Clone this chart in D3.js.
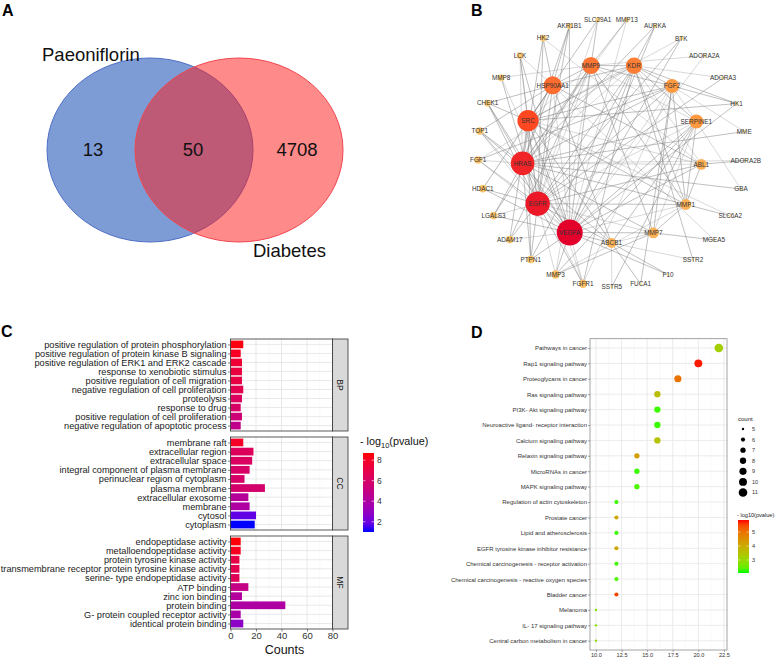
<!DOCTYPE html>
<html>
<head>
<meta charset="utf-8">
<script src="https://cdn.jsdelivr.net/npm/d3@7"></script>
<style>
body { margin: 0; background: #fff; }
text { font-family: "Liberation Sans", Arial, sans-serif; }
</style>
</head>
<body>
<svg width="780" height="659"></svg>
<script>
// ---- data: panel A (venn) ----
var vennSets = ["Paeoniflorin", "Diabetes"];
var vennCounts = [13, 50, 4708];

// ---- data: panel B (PPI network, degree sorted rings) ----
var innerGenes = ["VEGFA", "EGFR", "HRAS", "SRC", "HSP90AA1", "MMP9", "KDR", "FGF2", "SERPINE1", "ABL1", "MMP1", "MMP7", "ABCB1"];
var innerDegree = [30, 28, 27, 24, 20, 19, 18, 15, 15, 11, 11, 11, 10];
var outerGenes = ["FGFR1", "MMP3", "PTPN1", "ADAM17", "LGALS3", "HDAC1", "FGF1", "TOP1", "CHEK1", "MMP8", "LCK", "HK2", "AKR1B1",
  "SLC29A1", "MMP13", "AURKA", "BTK", "ADORA2A", "ADORA3", "HK1", "MME", "ADORA2B", "GBA", "SLC6A2", "MGEA5", "SSTR2", "F10", "FUCA1", "SSTR5"];
var outerDegree = [8, 8, 7, 7, 7, 7, 7, 7, 6, 6, 6, 6, 5, 4, 4, 3, 3, 2, 2, 2, 2, 1, 1, 1, 1, 1, 1, 1, 1];
var adjacency = [
  "VEGFA: EGFR HRAS SRC HSP90AA1 MMP9 KDR FGF2 SERPINE1 ABL1 MMP1 MMP7 ABCB1 FGFR1 MMP3 PTPN1 ADAM17 LGALS3 HDAC1 FGF1 TOP1 CHEK1 MMP8 LCK AKR1B1 MMP13 AURKA BTK ADORA2A HK1 F10",
  "EGFR: HRAS SRC HSP90AA1 MMP9 KDR FGF2 SERPINE1 ABL1 MMP1 MMP7 ABCB1 FGFR1 MMP3 PTPN1 ADAM17 LGALS3 HDAC1 FGF1 TOP1 CHEK1 MMP8 LCK HK2 AKR1B1 SLC29A1 BTK ADORA3",
  "HRAS: SRC HSP90AA1 MMP9 KDR FGF2 SERPINE1 ABL1 MMP1 MMP7 FGFR1 PTPN1 LGALS3 FGF1 TOP1 CHEK1 LCK HK2 AKR1B1 MMP13 AURKA MME ADORA2B GBA",
  "SRC: HSP90AA1 MMP9 KDR FGF2 ABL1 MMP1 ABCB1 FGFR1 PTPN1 ADAM17 HDAC1 LCK CHEK1 BTK SLC29A1 HK1 SLC6A2",
  "HSP90AA1: MMP9 KDR FGF2 ABL1 ABCB1 HDAC1 TOP1 CHEK1 LCK HK2 AKR1B1 MGEA5",
  "MMP9: KDR FGF2 SERPINE1 MMP1 MMP7 MMP3 ADAM17 LGALS3 MMP8 MMP13 SLC29A1 ADORA2A",
  "KDR: FGF2 SERPINE1 ABL1 MMP1 FGFR1 FGF1 PTPN1 HK1 ADORA3 AURKA SSTR2",
  "FGF2: SERPINE1 MMP1 MMP7 FGFR1 FGF1 HK1 MME FUCA1",
  "SERPINE1: MMP1 MMP7 ABCB1 MMP3 GBA SSTR5",
  "ABL1: MMP1 HK2 ADORA2B",
  "MMP1: MMP7 MMP3 SLC6A2",
  "MMP7: MMP3 ABCB1 MGEA5",
  "ABCB1: TOP1 SSTR2 F10 FUCA1 SSTR5"
];

// ---- data: panel C (GO enrichment) ----
var bpTerms = ["positive regulation of protein phosphorylation", "positive regulation of protein kinase B signaling",
  "positive regulation of ERK1 and ERK2 cascade", "response to xenobiotic stimulus", "positive regulation of cell migration",
  "negative regulation of cell proliferation", "proteolysis", "response to drug", "positive regulation of cell proliferation",
  "negative regulation of apoptotic process"];
var bpCounts = [10, 8, 9, 9, 9, 10, 9, 8, 9, 8];
var bpLogP = [8.5, 8.1, 7.6, 7.3, 7.1, 6.8, 6.3, 6.0, 5.5, 4.8];
var ccTerms = ["membrane raft", "extracellular region", "extracellular space", "integral component of plasma membrane",
  "perinuclear region of cytoplasm", "plasma membrane", "extracellular exosome", "membrane", "cytosol", "cytoplasm"];
var ccCounts = [10, 18, 17, 15, 11, 27, 14, 15, 20, 19];
var ccLogP = [8.0, 6.4, 6.2, 6.0, 6.0, 5.8, 4.3, 4.0, 1.8, 1.0];
var mfTerms = ["endopeptidase activity", "metalloendopeptidase activity", "protein tyrosine kinase activity",
  "transmembrane receptor protein tyrosine kinase activity", "serine- type endopeptidase activity", "ATP binding",
  "zinc ion binding", "protein binding", "G- protein coupled receptor activity", "identical protein binding"];
var mfCounts = [8, 8, 7, 7, 7, 14, 9, 43, 8, 10];
var mfLogP = [8.6, 8.2, 7.0, 6.8, 6.5, 5.0, 4.2, 4.0, 3.8, 2.8];
var countTicks = [0, 20, 40, 60, 80];

// ---- data: panel D (KEGG enrichment) ----
var keggTerms = ["Pathways in cancer", "Rap1 signaling pathway", "Proteoglycans in cancer", "Ras signaling pathway",
  "PI3K- Akt signaling pathway", "Neuroactive ligand- receptor interaction", "Calcium signaling pathway",
  "Relaxin signaling pathway", "MicroRNAs in cancer", "MAPK signaling pathway", "Regulation of actin cytoskeleton",
  "Prostate cancer", "Lipid and atherosclerosis", "EGFR tyrosine kinase inhibitor resistance",
  "Chemical carcinogenesis -  receptor activation", "Chemical carcinogenesis -  reactive oxygen species",
  "Bladder cancer", "Melanoma", "IL- 17 signaling pathway", "Central carbon metabolism in cancer"];
var keggX = [22, 20, 18, 16, 16, 16, 16, 14, 14, 14, 12, 12, 12, 12, 12, 12, 12, 10, 10, 10];
var keggCount = [11, 10, 9, 8, 8, 8, 8, 7, 7, 7, 6, 6, 6, 6, 6, 6, 6, 5, 5, 5];
var keggLogP = [3.2, 5.8, 5.0, 3.6, 2.2, 2.2, 3.5, 4.2, 2.2, 2.3, 2.2, 4.0, 2.2, 4.1, 2.2, 2.3, 5.5, 2.8, 2.8, 2.9];
var keggTicks = [10, 12.5, 15, 17.5, 20, 22.5];
var sizeLegend = [5, 6, 7, 8, 9, 10, 11];

var svg = d3.select("svg");

function panelLetter(t, x, y) {
  svg.append("text").attr("x", x).attr("y", y).text(t)
    .style("font-size", "16px").style("font-weight", "bold").style("fill", "#000");
}
panelLetter("A", 2, 16);
panelLetter("B", 471, 16);
panelLetter("C", 1, 337);
panelLetter("D", 471, 338);

// ================= A: venn =================
var ellA = {cx: 150, cy: 150, rx: 103, ry: 92};
var ellB = {cx: 239, cy: 150, rx: 104, ry: 92};
var venn = svg.append("g").attr("class", "venn");
venn.append("ellipse").attr("cx", ellA.cx).attr("cy", ellA.cy).attr("rx", ellA.rx).attr("ry", ellA.ry)
  .style("fill", "#7d9cd6").style("stroke", "#4f6fc6").style("stroke-width", 1);
venn.append("ellipse").attr("cx", ellB.cx).attr("cy", ellB.cy).attr("rx", ellB.rx).attr("ry", ellB.ry)
  .style("fill", "rgba(255,21,21,0.5)").style("stroke", "#f0474f").style("stroke-width", 1);

var aLeft = ellA.cx - ellA.rx, aRight = ellA.cx + ellA.rx;
var bLeft = ellB.cx - ellB.rx, bRight = ellB.cx + ellB.rx;
var regionX = [(aLeft + bLeft) / 2 + 2, (bLeft + aRight) / 2 - 1, (aRight + bRight) / 2 - 1];
venn.selectAll(".vennNum").data(vennCounts).enter().append("text")
  .attr("class", "vennNum")
  .attr("x", function(d, i) { return regionX[i]; })
  .attr("y", 156)
  .style("text-anchor", "middle").style("font-size", "18.5px").style("fill", "#111")
  .text(function(d) { return d; });
venn.append("text").attr("x", 42).attr("y", 61).text(vennSets[0]).style("font-size", "18.5px").style("fill", "#111");
venn.append("text").attr("x", 253).attr("y", 257).text(vennSets[1]).style("font-size", "18.5px").style("fill", "#111");

// ================= B: network =================
var ringCenter = {x: 612, y: 153};
function placeRing(names, degrees, radius, start) {
  var ang = d3.scaleLinear().domain([0, names.length]).range([start, start + 360]);
  return names.map(function(n, i) {
    var a = ang(i) * Math.PI / 180;
    return {id: n, degree: degrees[i], x: ringCenter.x + radius * Math.cos(a), y: ringCenter.y + radius * Math.sin(a)};
  });
}
var nodes = placeRing(innerGenes, innerDegree, 90, 118).concat(placeRing(outerGenes, outerDegree, 134, 102.5));
var byId = {};
nodes.forEach(function(n) { byId[n.id] = n; });
var links = [];
adjacency.forEach(function(row) {
  var parts = row.split(":");
  var src = parts[0].trim();
  parts[1].trim().split(/\s+/).forEach(function(t) { links.push({source: byId[src], target: byId[t]}); });
});

var nodeColor = d3.scaleLinear().domain([1, 7, 15, 24, 30])
  .range(["#fde9a6", "#fdc56a", "#ff9a40", "#ff4722", "#e3002b"]);
var nodeR = d3.scaleLinear().domain([0, 30]).range([1, 13]);

var net = svg.append("g").attr("class", "network");
net.selectAll(".link").data(links).enter().append("line")
  .attr("class", "link")
  .attr("x1", function(d) { return d.source.x; })
  .attr("y1", function(d) { return d.source.y; })
  .attr("x2", function(d) { return d.target.x; })
  .attr("y2", function(d) { return d.target.y; })
  .style("stroke", "#7d7d7d").style("stroke-opacity", function(d, i) { return i % 3 === 0 ? 0.45 : 0.75; })
  .style("stroke-width", 0.65);
net.selectAll(".node").data(nodes).enter().append("circle")
  .attr("class", "node")
  .attr("cx", function(d) { return d.x; })
  .attr("cy", function(d) { return d.y; })
  .attr("r", function(d) { return nodeR(d.degree); })
  .style("fill", function(d) { return nodeColor(d.degree); });
net.selectAll(".nodeLabel").data(nodes).enter().append("text")
  .attr("class", "nodeLabel")
  .attr("x", function(d) { return d.x; })
  .attr("y", function(d) { return d.y; })
  .attr("dy", "0.35em")
  .style("text-anchor", "middle").style("font-size", "6.4px").style("fill", "#333")
  .text(function(d) { return d.id; });

// ================= C: GO bars =================
var xC = d3.scaleLinear().domain([0, 80]).range([230.5, 332.5]);
var fillC = d3.scaleLinear().domain([1.0, 8.7]).range(["blue", "red"]).interpolate(d3.interpolateLab);
var facets = [
  {key: "BP", terms: bpTerms, counts: bpCounts, logp: bpLogP, y0: 339, y1: 431},
  {key: "CC", terms: ccTerms, counts: ccCounts, logp: ccLogP, y0: 437, y1: 530},
  {key: "MF", terms: mfTerms, counts: mfCounts, logp: mfLogP, y0: 536, y1: 629}
];
var goG = svg.append("g").attr("class", "go");
facets.forEach(function(f) {
  var y = d3.scalePoint().domain(f.terms).range([f.y0, f.y1]).padding(0.6);
  var bh = y.step() * 0.85;
  var g = goG.append("g");
  g.append("rect").attr("x", xC(0)).attr("y", f.y0).attr("width", xC(80) - xC(0)).attr("height", f.y1 - f.y0)
    .style("fill", "#fff");
  g.selectAll(".minor").data([10, 30, 50, 70]).enter().append("line")
    .attr("x1", xC).attr("x2", xC).attr("y1", f.y0).attr("y2", f.y1)
    .style("stroke", "#f2f2f2").style("stroke-width", 0.5);
  g.selectAll(".major").data(countTicks).enter().append("line")
    .attr("x1", xC).attr("x2", xC).attr("y1", f.y0).attr("y2", f.y1)
    .style("stroke", "#e6e6e6").style("stroke-width", 0.9);
  g.selectAll(".hgrid").data(f.terms).enter().append("line")
    .attr("x1", xC(0)).attr("x2", xC(80)).attr("y1", y).attr("y2", y)
    .style("stroke", "#e6e6e6").style("stroke-width", 0.9);
  g.selectAll(".bar").data(f.terms).enter().append("rect")
    .attr("class", "bar")
    .attr("x", xC(0))
    .attr("y", function(d) { return y(d) - bh / 2; })
    .attr("width", function(d, i) { return xC(f.counts[i]) - xC(0); })
    .attr("height", bh)
    .style("fill", function(d, i) { return fillC(f.logp[i]); });
  g.append("rect").attr("x", xC(0)).attr("y", f.y0).attr("width", xC(80) - xC(0)).attr("height", f.y1 - f.y0)
    .style("fill", "none").style("stroke", "#333").style("stroke-width", 0.8);
  // strip
  g.append("rect").attr("x", xC(80)).attr("y", f.y0).attr("width", 15.5).attr("height", f.y1 - f.y0)
    .style("fill", "#d9d9d9").style("stroke", "#333").style("stroke-width", 0.8);
  g.append("text").attr("transform", "translate(" + (xC(80) + 7.75) + "," + ((f.y0 + f.y1) / 2) + ") rotate(90)")
    .attr("dy", "0.35em").style("text-anchor", "middle").style("font-size", "8.5px").style("fill", "#1a1a1a")
    .text(f.key);
  // y axis
  var ax = g.append("g").attr("transform", "translate(" + xC(0) + ",0)")
    .call(d3.axisLeft(y).tickSize(2.5).tickPadding(1.5));
  ax.select(".domain").remove();
  ax.selectAll("line").style("stroke", "#333").style("stroke-width", 0.6);
  ax.selectAll("text").style("font-size", "9.2px").style("fill", "#1a1a1a")
    .style("font-family", "'Liberation Sans', Arial, sans-serif");
});
var axC = goG.append("g").attr("transform", "translate(0,629)")
  .call(d3.axisBottom(xC).tickValues(countTicks).tickSize(2.5).tickPadding(1));
axC.select(".domain").remove();
axC.selectAll("line").style("stroke", "#333").style("stroke-width", 0.6);
axC.selectAll("text").style("font-size", "9.5px").style("fill", "#333")
  .style("font-family", "'Liberation Sans', Arial, sans-serif");
goG.append("text").attr("x", (xC(0) + xC(80)) / 2 + 3).attr("y", 654).style("text-anchor", "middle")
  .style("font-size", "12.5px").style("fill", "#111").text("Counts");

// legend C
var legC = goG.append("g");
var tC = legC.append("text").attr("x", 360).attr("y", 445).style("font-size", "10.8px").style("fill", "#111");
tC.append("tspan").text("- log");
tC.append("tspan").attr("dy", 3).style("font-size", "7.5px").text("10");
tC.append("tspan").attr("dy", -3).text("(pvalue)");
var defs = svg.append("defs");
function makeGradient(id, scale, domain) {
  var gr = defs.append("linearGradient").attr("id", id).attr("x1", 0).attr("x2", 0).attr("y1", 0).attr("y2", 1);
  d3.range(0, 11).forEach(function(k) {
    var v = domain[1] - (domain[1] - domain[0]) * k / 10;
    gr.append("stop").attr("offset", (k * 10) + "%").attr("stop-color", scale(v));
  });
}
makeGradient("gradC", fillC, [1.0, 8.7]);
var barCY = d3.scaleLinear().domain([8.7, 1.0]).range([453, 532]);
legC.append("rect").attr("x", 363).attr("y", barCY(8.7)).attr("width", 11).attr("height", barCY(1.0) - barCY(8.7))
  .style("fill", "url(#gradC)");
[8, 6, 4, 2].forEach(function(v) {
  legC.append("line").attr("x1", 363).attr("x2", 365.5).attr("y1", barCY(v)).attr("y2", barCY(v)).style("stroke", "#fff").style("stroke-width", 0.6);
  legC.append("line").attr("x1", 371.5).attr("x2", 374).attr("y1", barCY(v)).attr("y2", barCY(v)).style("stroke", "#fff").style("stroke-width", 0.6);
  legC.append("text").attr("x", 377).attr("y", barCY(v)).attr("dy", "0.35em").style("font-size", "8.5px").style("fill", "#333").text(v);
});

// ================= D: KEGG dots =================
var xD = d3.scaleLinear().domain([9.42, 22.8]).range([590, 727]);
var yD = d3.scalePoint().domain(keggTerms).range([338.7, 650]).padding(0.6);
var colD = d3.scaleLinear().domain([2.07, 5.86]).range(["#00ff00", "#ff0000"]).interpolate(d3.interpolateLab);
var area = d3.scaleLinear().domain([5, 11]).range([1.44, 18.5]);
function rD(c) { return Math.sqrt(area(c)); }

var kg = svg.append("g").attr("class", "kegg");
kg.append("rect").attr("x", 590).attr("y", 338.7).attr("width", 137).attr("height", 650 - 338.7).style("fill", "#fff");
kg.selectAll(".minorD").data([11.25, 13.75, 16.25, 18.75, 21.25]).enter().append("line")
  .attr("x1", xD).attr("x2", xD).attr("y1", 338.7).attr("y2", 650)
  .style("stroke", "#f2f2f2").style("stroke-width", 0.5);
kg.selectAll(".majorD").data(keggTicks).enter().append("line")
  .attr("x1", xD).attr("x2", xD).attr("y1", 338.7).attr("y2", 650)
  .style("stroke", "#e6e6e6").style("stroke-width", 0.8);
kg.selectAll(".hD").data(keggTerms).enter().append("line")
  .attr("x1", 590).attr("x2", 727).attr("y1", yD).attr("y2", yD)
  .style("stroke", "#e6e6e6").style("stroke-width", 0.8);
kg.selectAll(".dot").data(keggTerms).enter().append("circle")
  .attr("class", "dot")
  .attr("cx", function(d, i) { return xD(keggX[i]); })
  .attr("cy", function(d) { return yD(d); })
  .attr("r", function(d, i) { return rD(keggCount[i]); })
  .style("fill", function(d, i) { return colD(keggLogP[i]); });
kg.append("rect").attr("x", 590).attr("y", 338.7).attr("width", 137).attr("height", 650 - 338.7)
  .style("fill", "none").style("stroke", "#8c8c8c").style("stroke-width", 0.8);
var ayD = kg.append("g").attr("transform", "translate(590,0)").call(d3.axisLeft(yD).tickSize(2).tickPadding(1));
ayD.select(".domain").remove();
ayD.selectAll("line").style("stroke", "#555").style("stroke-width", 0.5);
ayD.selectAll("text").style("font-size", "6px").style("fill", "#333")
  .style("font-family", "'Liberation Sans', Arial, sans-serif");
var axD = kg.append("g").attr("transform", "translate(0,650)")
  .call(d3.axisBottom(xD).tickValues(keggTicks).tickFormat(d3.format(".1f")).tickSize(2).tickPadding(1));
axD.select(".domain").remove();
axD.selectAll("line").style("stroke", "#555").style("stroke-width", 0.5);
axD.selectAll("text").style("font-size", "5.6px").style("fill", "#333")
  .style("font-family", "'Liberation Sans', Arial, sans-serif");

// legend D: size
var legD = kg.append("g");
legD.append("text").attr("x", 738).attr("y", 421).style("font-size", "6px").style("fill", "#222").text("count");
var sizeY = d3.scalePoint().domain(sizeLegend).range([429, 492.5]);
legD.selectAll(".sz").data(sizeLegend).enter().append("circle")
  .attr("cx", 743).attr("cy", sizeY).attr("r", rD).style("fill", "#000");
legD.selectAll(".szl").data(sizeLegend).enter().append("text")
  .attr("x", 752).attr("y", sizeY).attr("dy", "0.35em").style("font-size", "5.5px").style("fill", "#333")
  .text(function(d) { return d; });
// legend D: colour
legD.append("text").attr("x", 737).attr("y", 517).style("font-size", "5.6px").style("fill", "#222").text("- log10(pvalue)");
makeGradient("gradD", colD, [2.07, 5.86]);
var barDY = d3.scaleLinear().domain([5.86, 2.07]).range([520, 573]);
legD.append("rect").attr("x", 738).attr("y", barDY(5.86)).attr("width", 11).attr("height", barDY(2.07) - barDY(5.86))
  .style("fill", "url(#gradD)");
[5, 4, 3].forEach(function(v) {
  legD.append("line").attr("x1", 738).attr("x2", 740.5).attr("y1", barDY(v)).attr("y2", barDY(v)).style("stroke", "#fff").style("stroke-width", 0.5);
  legD.append("line").attr("x1", 746.5).attr("x2", 749).attr("y1", barDY(v)).attr("y2", barDY(v)).style("stroke", "#fff").style("stroke-width", 0.5);
  legD.append("text").attr("x", 752).attr("y", barDY(v)).attr("dy", "0.35em").style("font-size", "5.5px").style("fill", "#333").text(v);
});
</script>
</body>
</html>
